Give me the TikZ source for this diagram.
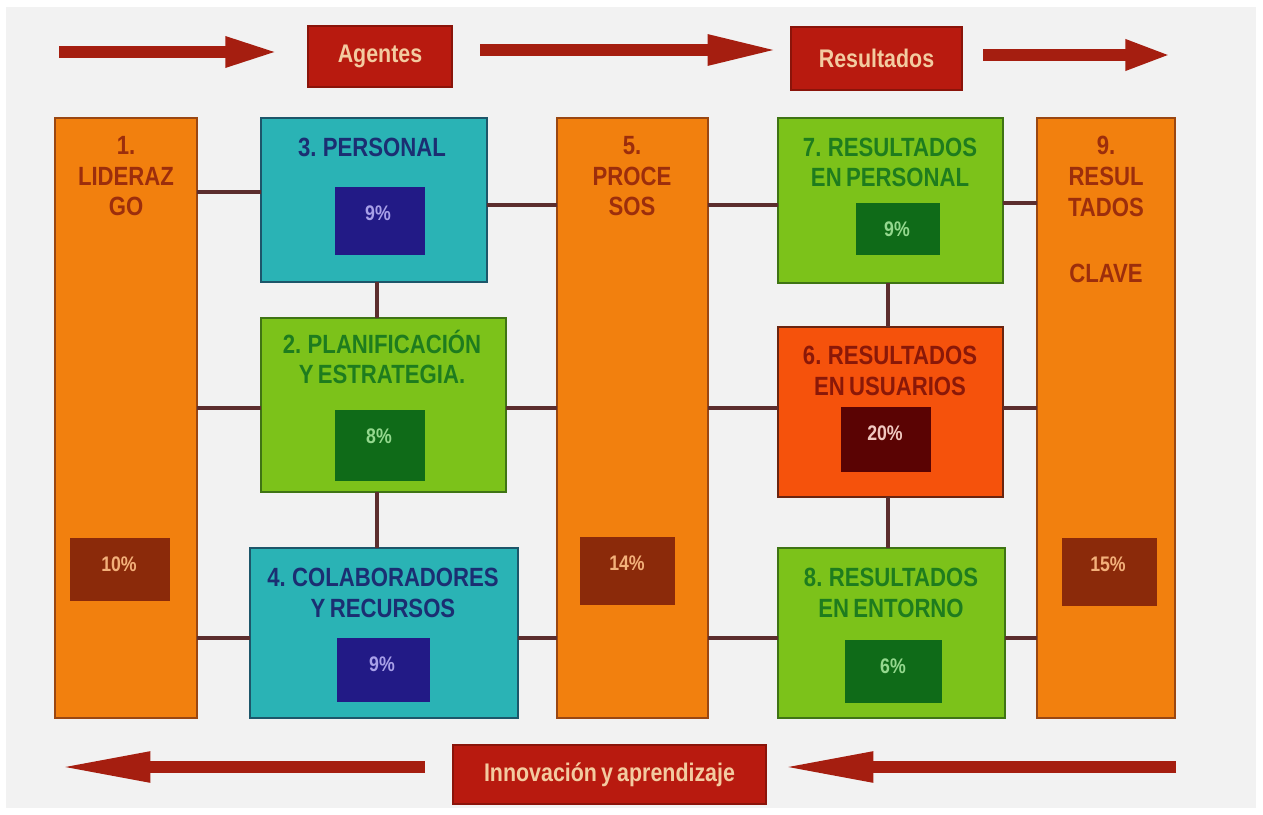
\documentclass[tikz,border=0pt]{standalone}
\usepackage{fontspec}
\setmainfont{Liberation Sans}
\newfontfamily\nar[FakeStretch=0.84,WordSpace=0.7]{Liberation Sans}
\usetikzlibrary{calc,arrows.meta}

\definecolor{bgGray}{HTML}{F2F2F2}
\definecolor{pillarFill}{HTML}{F2800E}
\definecolor{pillarEdge}{HTML}{9A4712}
\definecolor{pillarText}{HTML}{9C2E0C}
\definecolor{pillarPct}{HTML}{8B2A0A}
\definecolor{pillarPctText}{HTML}{F3B07A}
\definecolor{tealFill}{HTML}{2AB3B5}
\definecolor{tealEdge}{HTML}{1D566A}
\definecolor{navyText}{HTML}{1B2E72}
\definecolor{navyPct}{HTML}{221A86}
\definecolor{navyPctText}{HTML}{A8A0E8}
\definecolor{greenFill}{HTML}{7CC21A}
\definecolor{greenEdge}{HTML}{3F7414}
\definecolor{greenText}{HTML}{1E7C1E}
\definecolor{greenPct}{HTML}{0F6B18}
\definecolor{greenPctText}{HTML}{94D88E}
\definecolor{usrFill}{HTML}{F5520C}
\definecolor{usrEdge}{HTML}{6A2410}
\definecolor{usrText}{HTML}{8A1808}
\definecolor{usrPct}{HTML}{5A0303}
\definecolor{usrPctText}{HTML}{F0C8C0}
\definecolor{hdrRed}{HTML}{B81A0F}
\definecolor{hdrEdge}{HTML}{8A140A}
\definecolor{hdrText}{HTML}{F3CBA0}
\definecolor{arrCol}{HTML}{A51E10}
\definecolor{linkCol}{HTML}{5C2E2E}

\begin{document}
\begin{tikzpicture}[x=0.02cm,y=-0.02cm,
  sz/.style 2 args={minimum width={#1*0.02cm},minimum height={#2*0.02cm},inner sep=0pt,outer sep=0pt},
  pillar/.style={draw=pillarEdge,line width=0.9pt,fill=pillarFill},
  agentbox/.style={draw=tealEdge,line width=1.1pt,fill=tealFill},
  resultbox/.style={draw=greenEdge,line width=1.1pt,fill=greenFill},
  userbox/.style={draw=usrEdge,line width=1.1pt,fill=usrFill},
  title/.style={font=\nar\bfseries\fontsize{15}{17.5}\selectfont,align=center,inner sep=0pt,anchor=north},
  pcttext/.style={font=\nar\bfseries\fontsize{12}{14}\selectfont,inner sep=0pt},
  headbox/.style={fill=hdrRed,draw=hdrEdge,line width=0.6pt,text=hdrText,
    font=\nar\bfseries\fontsize{14.5}{16}\selectfont},
  link/.style={draw=linkCol,line width=2pt},
  flow/.style={draw=arrCol,line width=6.4pt,-{Triangle[length=#1,width=16pt]}}
]
\useasboundingbox (0,0) rectangle (1263,814);
\fill[white] (0,0) rectangle (1263,814);
\fill[bgGray] (6,7) rectangle (1256,808);

% ---- header and footer labels
\node[headbox,sz={144}{61}] (ag)  at (380,56.5) {Agentes};
\node[headbox,sz={171}{63}] (res) at (876.5,58.5) {Resultados};
\node[headbox,sz={313}{59}] (ino) at (609.5,774.5) {Innovación y aprendizaje};

% ---- main blocks
\node[pillar,sz={142}{600}] (c1) at (126,418) {};
\node[pillar,sz={151}{600}] (c5) at (632.5,418) {};
\node[pillar,sz={138}{600}] (c9) at (1106,418) {};
\node[agentbox,sz={226}{164}] (b3) at (374,200) {};
\node[resultbox,sz={245}{174}] (b2) at (383.5,405) {};
\node[agentbox,sz={268}{170}] (b4) at (384,633) {};
\node[resultbox,sz={225}{165}] (b7) at (890.5,200.5) {};
\node[userbox,sz={225}{170}] (b6) at (890.5,412) {};
\node[resultbox,sz={227}{170}] (b8) at (891.5,633) {};

% ---- weight boxes
\node[fill=pillarPct,sz={100}{63}] (p1) at (120,569.5) {};
\node[fill=pillarPct,sz={95}{68}]  (p5) at (627.5,571) {};
\node[fill=pillarPct,sz={95}{68}]  (p9) at (1109.5,572) {};
\node[fill=navyPct,sz={90}{68}]    (p3) at (380,221) {};
\node[fill=greenPct,sz={90}{71}]   (p2) at (380,445.5) {};
\node[fill=navyPct,sz={93}{64}]    (p4) at (383.5,670) {};
\node[fill=greenPct,sz={84}{52}]   (p7) at (898,229) {};
\node[fill=usrPct,sz={90}{65}]     (p6) at (886,439.5) {};
\node[fill=greenPct,sz={97}{63}]   (p8) at (893.5,671.5) {};

\node[pcttext,text=pillarPctText] (p1t) at (119,564) {10\%};
\node[pcttext,text=pillarPctText] (p5t) at (627,563) {14\%};
\node[pcttext,text=pillarPctText] (p9t) at (1108,564) {15\%};
\node[pcttext,text=navyPctText]   (p3t) at (378,213) {9\%};
\node[pcttext,text=greenPctText]  (p2t) at (379,436) {8\%};
\node[pcttext,text=navyPctText]   (p4t) at (382,664) {9\%};
\node[pcttext,text=greenPctText]  (p7t) at (897,229) {9\%};
\node[pcttext,text=usrPctText]    (p6t) at (885,433) {20\%};
\node[pcttext,text=greenPctText]  (p8t) at (893,666) {6\%};

% ---- titles
\node[title,text=pillarText] (c1t) at (126,136) {1.\\LIDERAZ\\GO};
\node[title,text=pillarText] (c5t) at (632,136) {5.\\PROCE\\SOS};
\node[title,text=pillarText] (c9t) at (1106,136) {9.\\RESUL\\TADOS\\[20pt]CLAVE};
\node[title,text=navyText]  (b3t) at (372,137.5) {3. PERSONAL};
\node[title,text=greenText] (b2t) at (382,329.5) {2. PLANIFICACIÓN\\Y ESTRATEGIA.};
\node[title,text=navyText]  (b4t) at (383,567.5) {4. COLABORADORES\\Y RECURSOS};
\node[title,text=greenText] (b7t) at (890,137.5) {7. RESULTADOS\\EN PERSONAL};
\node[title,text=usrText]   (b6t) at (890,345.5) {6. RESULTADOS\\EN USUARIOS};
\node[title,text=greenText] (b8t) at (891,567.5) {8. RESULTADOS\\EN ENTORNO};

% ---- row and column links
\coordinate (ra) at (0,192);
\coordinate (rb) at (0,205);
\coordinate (rc) at (0,203);
\coordinate (r2) at (0,408);
\coordinate (r3) at (0,638);
\coordinate (va) at (377,0);
\coordinate (vb) at (888,0);
\draw[link] (c1.east |- ra) -- (b3.west |- ra);
\draw[link] (b3.east |- rb) -- (c5.west |- rb);
\draw[link] (c5.east |- rb) -- (b7.west |- rb);
\draw[link] (b7.east |- rc) -- (c9.west |- rc);
\draw[link] (c1.east |- r2) -- (b2.west |- r2);
\draw[link] (b2.east |- r2) -- (c5.west |- r2);
\draw[link] (c5.east |- r2) -- (b6.west |- r2);
\draw[link] (b6.east |- r2) -- (c9.west |- r2);
\draw[link] (c1.east |- r3) -- (b4.west |- r3);
\draw[link] (b4.east |- r3) -- (c5.west |- r3);
\draw[link] (c5.east |- r3) -- (b8.west |- r3);
\draw[link] (b8.east |- r3) -- (c9.west |- r3);
\draw[link] (b3.south -| va) -- (b2.north -| va);
\draw[link] (b2.south -| va) -- (b4.north -| va);
\draw[link] (b7.south -| vb) -- (b6.north -| vb);
\draw[link] (b6.south -| vb) -- (b8.north -| vb);

% ---- flow arrows
\coordinate (f1) at (59,52);
\coordinate (f3) at (1171,55);
\coordinate (f4) at (59,767);
\coordinate (f5) at (1176,767);
\draw[flow=30pt] (f1) -- ($(ag.west)+(-30,-4.5)$);
\draw[flow=40pt] ($(ag.east)+(28,-6.5)$) -- ($(res.west)+(-13,-8.5)$);
\draw[flow=26pt] ($(res.east)+(21,-3.5)$) -- (f3);
\draw[flow=52pt] ($(ino.west)+(-28,-7.5)$) -- (f4);
\draw[flow=52pt] (f5) -- ($(ino.east)+(16,-7.5)$);
\end{tikzpicture}
\end{document}
